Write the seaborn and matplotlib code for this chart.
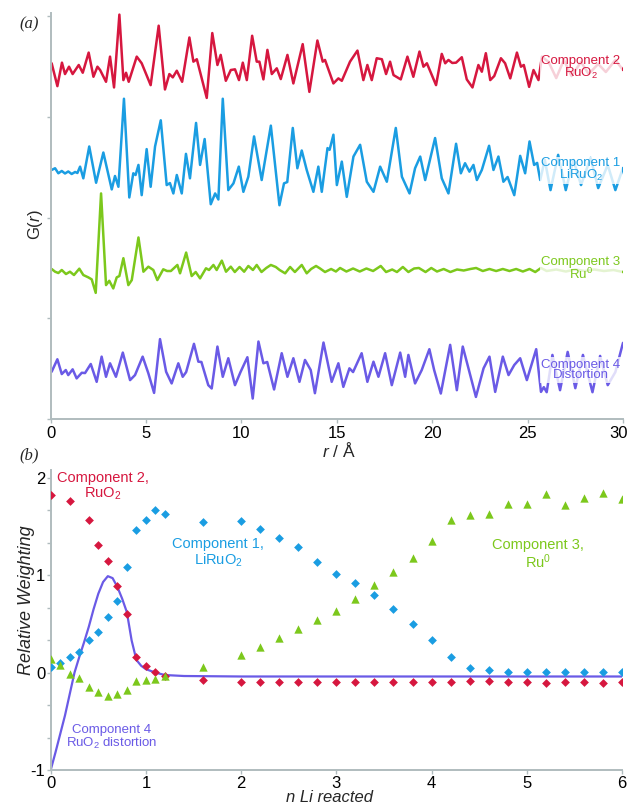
import matplotlib
matplotlib.use("Agg")
import matplotlib.pyplot as plt
import matplotlib.transforms as mtransforms
import seaborn as sns
from matplotlib import font_manager
from matplotlib.ticker import MultipleLocator

# ---- panel (a): PDF components, r in Angstrom, G(r) deviation from each trace's baseline
r_c2 = [0.05, 0.35, 0.59, 0.75, 0.96, 1.15, 1.47, 1.68, 1.99, 2.24,
        2.45, 2.59, 2.90, 3.11, 3.32, 3.60, 3.81, 3.95, 4.09, 4.51,
        4.77, 5.24, 5.66, 5.99, 6.22, 6.40, 6.61, 6.89, 7.27, 7.48,
        7.66, 8.18, 8.47, 8.74, 8.91, 9.18, 9.44, 9.66, 9.87, 10.07,
        10.28, 10.56, 10.80, 10.94, 11.15, 11.36, 11.59, 11.85, 12.06, 12.41,
        12.72, 13.21, 13.56, 13.98, 14.26, 14.38, 14.82, 15.08, 15.26, 15.69,
        16.08, 16.39, 16.60, 16.83, 17.09, 17.36, 17.58, 17.79, 17.97, 18.35,
        18.70, 19.01, 19.33, 19.54, 19.72, 20.20, 20.50, 20.68, 20.85, 21.05,
        21.25, 21.55, 21.81, 22.11, 22.42, 22.60, 22.81, 23.04, 23.25, 23.60,
        23.82, 24.09, 24.44, 24.65, 24.80, 25.08, 25.31, 25.57, 25.75, 26.1,
        26.5, 26.9, 27.3, 27.8, 28.2, 28.7, 29.1, 29.6, 30.0]
g_c2 = [0.67, -1.6, 0.73, -0.4, 0.33, -0.4, 0.5, -0.27, 1.73, -0.67,
        0.33, 0.0, -1.17, 1.33, -1.73, 5.5, -1.0, -0.27, -1.17, 1.33,
        0.67, -1.5, 4.4, -1.93, -0.4, -0.73, -0.07, -1.17, 3.23, 0.83,
        1.07, -2.77, 3.67, 0.5, 1.5, -1.07, 0.0, 0.07, -1.0, 0.73,
        -1.0, 3.4, 0.83, 0.83, -0.93, 2.0, -0.4, 0.17, -0.9, 1.5,
        -1.33, 2.57, -2.17, 2.93, 0.83, 1.0, -1.33, -0.83, -1.07, 0.83,
        1.93, -1.0, 0.5, -1.0, 1.17, 1.07, -0.4, 0.83, -0.5, -0.93,
        1.33, -0.67, 1.83, 0.33, 0.67, -1.5, 1.6, 0.67, 1.0, 0.7,
        0.73, 1.27, -0.93, -1.73, 0.5, -0.17, 1.67, -1.0, -0.6, 1.17,
        0.67, -0.83, 1.73, 0.33, 0.5, -1.67, 0.0, -1.0, 1.33, 0.8,
        -0.8, 1.0, -0.6, 0.8, -0.4, 0.6, -0.2, 1.0, 0.0]

r_c1 = [0.05, 0.23, 0.40, 0.58, 0.75, 0.92, 1.10, 1.28, 1.40, 1.54,
        1.71, 2.02, 2.38, 2.76, 3.20, 3.37, 3.55, 3.84, 4.12, 4.33,
        4.45, 4.60, 4.77, 5.03, 5.24, 5.47, 5.77, 6.08, 6.25, 6.43,
        6.61, 6.87, 7.09, 7.30, 7.62, 7.83, 8.07, 8.39, 8.62, 8.79,
        9.02, 9.31, 9.58, 9.86, 10.10, 10.36, 10.66, 11.06, 11.54, 11.99,
        12.23, 12.40, 12.69, 12.93, 13.16, 13.42, 13.77, 14.03, 14.21, 14.51,
        14.62, 14.82, 15.00, 15.26, 15.52, 15.87, 16.22, 16.57, 16.92, 17.27,
        17.62, 18.09, 18.41, 18.81, 19.10, 19.37, 19.63, 20.15, 20.50, 20.85,
        21.25, 21.50, 21.72, 21.95, 22.16, 22.34, 22.60, 22.98, 23.21, 23.47,
        23.73, 23.95, 24.30, 24.61, 24.87, 25.10, 25.34, 25.50, 25.66, 25.9,
        26.2, 26.6, 27.0, 27.4, 27.8, 28.3, 28.7, 29.2, 29.6, 30.0]
g_c1 = [0.2, 0.37, -0.13, 0.1, -0.15, 0.05, -0.2, 0.0, -0.1, 0.53,
        -0.63, 2.53, -1.07, 1.93, -1.73, -0.4, -1.47, 7.27, -2.53, -0.13,
        -0.3, 0.7, -2.3, 2.27, -1.47, 2.53, 5.13, -1.3, -1.1, -2.13,
        -0.3, -2.13, 1.8, -0.63, 4.87, 0.7, 3.27, -3.2, -2.13, -2.73,
        7.27, -1.8, -1.13, 0.53, -1.97, -0.47, 3.53, -0.8, 4.6, -3.3,
        -1.13, -1.0, 4.37, 0.37, 2.13, 0.2, -1.97, 0.53, -1.97, 2.37,
        2.2, 3.7, -1.3, 1.03, -2.47, 1.53, 2.7, -0.97, -1.97, 0.53,
        -0.97, 4.37, -0.47, -2.13, 0.37, 1.53, -0.8, 3.37, -0.63, -2.13,
        2.8, -0.13, 0.87, 0.03, 0.7, -0.8, 0.2, 2.6, 0.2, 1.53,
        -0.97, -0.5, -2.3, 1.6, -0.13, 3.03, 0.7, 0.9, -0.8, 1.2,
        -1.8, 1.7, -1.8, 1.2, -1.3, 1.4, -1.6, 0.7, -1.8, 0.4]

r_c3 = [0.05, 0.23, 0.40, 0.58, 0.80, 1.01, 1.22, 1.50, 1.71, 1.97,
        2.15, 2.36, 2.64, 2.90, 3.07, 3.28, 3.46, 3.60, 3.81, 4.07,
        4.25, 4.60, 4.86, 5.12, 5.38, 5.59, 5.90, 6.10, 6.30, 6.64,
        6.78, 7.10, 7.39, 7.60, 7.83, 8.14, 8.30, 8.53, 8.70, 8.97,
        9.19, 9.44, 9.65, 9.90, 10.14, 10.36, 10.60, 10.80, 11.05, 11.30,
        11.54, 11.80, 12.00, 12.29, 12.55, 12.80, 13.16, 13.42, 13.65, 13.91,
        14.12, 14.38, 14.70, 14.95, 15.17, 15.50, 15.85, 16.20, 16.55, 16.90,
        17.30, 17.58, 17.90, 18.15, 18.46, 18.75, 19.05, 19.30, 19.65, 19.95,
        20.25, 20.60, 20.95, 21.30, 21.65, 22.00, 22.30, 22.65, 23.00, 23.35,
        23.70, 24.05, 24.40, 24.75, 25.10, 25.40, 25.70, 26.0, 26.5, 27.0,
        27.5, 28.0, 28.5, 29.0, 29.5, 30.0]
g_c3 = [0.2, -0.07, -0.2, 0.1, -0.3, -0.07, -0.4, 0.23, -0.4, -0.63,
        -0.83, -2.17, 7.7, -1.4, -0.97, -1.73, -0.63, -0.5, 1.27, -1.4,
        -0.9, 3.33, -0.07, 0.43, 0.1, -0.9, 0.17, 0.0, 0.0, 0.6,
        -0.23, 1.83, -0.5, -0.1, -0.73, 0.27, 0.1, 0.6, 0.1, 1.03,
        -0.07, 0.43, -0.1, 0.4, -0.07, 0.5, 0.1, 0.6, -0.1, 0.3,
        0.6, 0.4, 0.1, -0.23, 0.4, -0.1, 0.6, -0.23, 0.2, 0.5,
        0.25, -0.1, 0.2, -0.05, 0.3, -0.05, 0.25, -0.05, 0.25, 0.0,
        0.5, -0.1, 0.15, -0.1, 0.4, -0.1, 0.25, 0.3, -0.1, 0.3,
        -0.05, 0.2, -0.1, 0.15, 0.05, 0.2, 0.3, 0.0, 0.2, 0.0,
        0.2, 0.0, 0.2, -0.05, 0.2, -0.1, 0.3, 0.0, 0.15, -0.05,
        0.15, 0.0, 0.15, 0.0, 0.1, -0.1]

r_c4 = [0.05, 0.35, 0.58, 0.79, 0.92, 1.15, 1.36, 1.63, 1.80, 2.10,
        2.41, 2.67, 2.90, 3.11, 3.42, 3.78, 4.16, 4.42, 4.82, 5.12,
        5.42, 5.73, 6.05, 6.34, 6.69, 6.92, 7.10, 7.51, 7.74, 7.90,
        8.26, 8.44, 8.74, 9.02, 9.31, 9.66, 9.95, 10.31, 10.59, 10.89,
        11.15, 11.35, 11.71, 12.11, 12.41, 12.72, 13.04, 13.33, 13.63, 13.85,
        14.30, 14.73, 15.08, 15.34, 15.66, 15.85, 16.30, 16.60, 16.92, 17.18,
        17.53, 17.88, 18.32, 18.58, 18.75, 19.10, 19.45, 19.85, 20.10, 20.45,
        20.94, 21.29, 21.60, 21.95, 22.29, 22.69, 23.00, 23.30, 23.70, 24.00,
        24.30, 24.61, 24.96, 25.45, 25.70, 25.85, 26.00, 26.3, 26.7, 27.1,
        27.5, 27.9, 28.4, 28.8, 29.2, 29.6, 30.0]
g_c4 = [0.03, 1.27, -0.2, 0.2, -0.3, 0.27, -0.63, -0.07, -0.1, 0.8,
        -0.97, 1.53, -0.47, 0.87, -0.47, 1.93, -0.8, -0.3, 1.53, -0.13,
        -2.07, 3.27, 0.03, -1.13, 0.87, -0.47, 0.0, 2.8, 1.03, 1.0,
        -1.3, -1.63, 2.53, -0.47, 1.37, -1.3, 0.0, 1.47, -2.63, 3.03,
        0.87, 1.0, -1.73, 1.87, -0.47, 1.37, -0.97, 1.2, 0.2, -2.1,
        2.93, -0.97, 0.87, -1.47, 0.37, 0.0, 1.87, -0.97, 1.03, -0.47,
        1.87, -1.3, 1.93, -0.47, 1.7, -1.13, 0.2, 2.27, 0.2, -2.13,
        2.7, -1.8, 2.53, 0.0, -2.47, 0.37, 1.53, -1.97, 1.53, -0.3,
        0.7, 1.37, -0.8, 2.27, -1.97, -1.5, -2.0, 1.7, -1.8, 2.0,
        -1.6, 1.7, -2.0, 1.6, -1.3, 0.0, 2.9]

# stacking offsets of the four traces (bottom to top: 4, 3, 1, 2)
offsets = {"c2": 34.64, "c1": 24.52, "c3": 14.69, "c4": 4.66}

# ---- panel (b): relative weighting vs n Li reacted
n_c2 = [0, 0.2, 0.4, 0.5, 0.6, 0.7, 0.8, 0.9, 1.0, 1.1, 1.2, 1.6,
        2.0, 2.2, 2.4, 2.6, 2.8, 3.0, 3.2, 3.4, 3.6, 3.8, 4.0, 4.2,
        4.4, 4.6, 4.8, 5.0, 5.2, 5.4, 5.6, 5.8, 6.0]
w_c2 = [1.82, 1.76, 1.57, 1.31, 1.15, 0.89, 0.60, 0.16, 0.07, 0.01, -0.03, -0.08,
        -0.10, -0.10, -0.10, -0.10, -0.10, -0.10, -0.10, -0.10, -0.10, -0.10, -0.10, -0.10,
        -0.09, -0.09, -0.10, -0.10, -0.11, -0.10, -0.10, -0.11, -0.10]

n_steps = [0, 0.1, 0.2, 0.3, 0.4, 0.5, 0.6, 0.7, 0.8, 0.9, 1.0, 1.1, 1.2, 1.6,
           2.0, 2.2, 2.4, 2.6, 2.8, 3.0, 3.2, 3.4, 3.6, 3.8, 4.0, 4.2,
           4.4, 4.6, 4.8, 5.0, 5.2, 5.4, 5.6, 5.8, 6.0]
w_c1 = [0.06, 0.10, 0.16, 0.21, 0.33, 0.42, 0.57, 0.73, 1.08, 1.46, 1.57, 1.67, 1.63, 1.55,
        1.56, 1.47, 1.38, 1.29, 1.14, 1.01, 0.92, 0.80, 0.65, 0.50, 0.33, 0.16,
        0.05, 0.03, 0.01, 0.01, 0.01, 0.01, 0.01, 0.01, 0.01]
w_c3 = [0.14, 0.08, -0.01, -0.06, -0.15, -0.20, -0.24, -0.22, -0.18, -0.09, -0.08, -0.07, -0.04, 0.06,
        0.18, 0.26, 0.36, 0.45, 0.54, 0.63, 0.76, 0.90, 1.03, 1.18, 1.35, 1.57,
        1.62, 1.63, 1.73, 1.73, 1.83, 1.72, 1.79, 1.84, 1.78]

n_c4 = [0, 0.05, 0.1, 0.15, 0.2, 0.25, 0.3, 0.35, 0.4, 0.45, 0.5, 0.55, 0.6, 0.65,
        0.7, 0.75, 0.8, 0.85, 0.9, 0.95, 1.0, 1.1, 1.2, 1.4, 2.0, 3.0, 4.0, 5.0, 6.0]
w_c4 = [-1.0, -0.82, -0.63, -0.44, -0.22, 0.0, 0.16, 0.31, 0.47, 0.65, 0.81, 0.93, 0.99, 0.97,
        0.88, 0.76, 0.62, 0.33, 0.13, 0.07, 0.035, 0.0, -0.025, -0.035, -0.04, -0.04, -0.04, -0.04, -0.04]

RED = "#d6173f"
BLUE = "#1a9de2"
GREEN = "#7cc81c"
PURPLE = "#6a5ae6"
GREY = "#b0bcbe"

sns.set_style("ticks")
plt.rcParams['font.family'] = ['Liberation Sans', 'DejaVu Sans']
plt.rcParams['mathtext.fontset'] = 'custom'
plt.rcParams['mathtext.rm'] = 'Liberation Sans'
plt.rcParams['mathtext.it'] = 'Liberation Sans:italic'
plt.rcParams['axes.unicode_minus'] = False

installed = {f.name for f in font_manager.fontManager.ttflist}
if 'Liberation Sans Narrow' in installed:
    narrow, nscale = 'Liberation Sans Narrow', 1.0
else:
    narrow, nscale = 'Liberation Sans', 0.87

W, H = 629, 806
fig = plt.figure(figsize=(W / 100, H / 100), dpi=100)


def style_axes(ax):
    sns.despine(ax=ax)
    for s in ("left", "bottom"):
        ax.spines[s].set_color(GREY)
        ax.spines[s].set_linewidth(1.4)
    ax.tick_params(which="both", direction="out", color=GREY, width=1.0,
                   labelsize=12, labelcolor="black")


# ---------------- (a)
ax_a = fig.add_axes([50.7 / W, 1 - 419 / H, (623 - 50.7) / W, (419 - 12.7) / H])
traces = [(r_c2, g_c2, "c2", RED), (r_c1, g_c1, "c1", BLUE),
          (r_c3, g_c3, "c3", GREEN), (r_c4, g_c4, "c4", PURPLE)]
for r, g, key, col in traces:
    sns.lineplot(x=r, y=[v + offsets[key] for v in g], ax=ax_a, color=col,
                 lw=1.8, estimator=None, sort=False,
                 solid_joinstyle="round", solid_capstyle="round")

ax_a.set_xlim(0, 30)
ax_a.set_ylim(0, 40.33)
ax_a.set_xticks([0, 5, 10, 15, 20, 25, 30])
ax_a.set_yticks([0, 10, 20, 30, 40])
ax_a.set_yticklabels([])
ax_a.set_xlabel("")
ax_a.set_ylabel("")
style_axes(ax_a)
ax_a.tick_params(length=3, pad=2)
# keep the last tick label inside the canvas, as in the source figure
last = ax_a.get_xticklabels()[-1]
last.set_transform(last.get_transform() +
                   mtransforms.ScaledTranslation(-4 / 100, 0, fig.dpi_scale_trans))

box = dict(boxstyle="square,pad=0.12", fc="white", ec="none", alpha=0.8)
labels_a = [("Component 2\nRuO$_2$", offsets["c2"] + 0.2, RED),
            ("Component 1\nLiRuO$_2$", offsets["c1"] + 0.2, BLUE),
            ("Component 3\nRu$^0$", offsets["c3"] + 0.2, GREEN),
            ("Component 4\nDistortion", offsets["c4"] + 0.2, PURPLE)]
for txt, yy, col in labels_a:
    ax_a.text(27.8, yy, txt, color=col, ha="center", va="center",
              fontsize=11 * nscale, family=narrow, linespacing=0.85,
              bbox=box, zorder=5)

ax_a.text(-0.026, 0.4775, "G($\\it{r}$)", transform=ax_a.transAxes, rotation=90,
          ha="center", va="center", fontsize=12)
ax_a.text(0.504, -0.0763, "$\\it{r}$ / Å", transform=ax_a.transAxes,
          ha="center", va="center", fontsize=12.5)
fig.text(29 / W, 1 - 24.5 / H, "(a)", family="Liberation Serif", style="italic",
         fontsize=12, ha="center", va="center")

# ---------------- (b)
ax_b = fig.add_axes([50.7 / W, 1 - 770 / H, (622 - 50.7) / W, 300 / H])
sns.lineplot(x=n_c4, y=w_c4, ax=ax_b, color=PURPLE, lw=1.6, estimator=None,
             sort=False, zorder=2)
sns.scatterplot(x=n_c2, y=w_c2, ax=ax_b, marker="D", s=20, color=RED,
                linewidth=0, zorder=3)
sns.scatterplot(x=n_steps, y=w_c1, ax=ax_b, marker="D", s=20, color=BLUE,
                linewidth=0, zorder=3)
sns.scatterplot(x=n_steps, y=w_c3, ax=ax_b, marker="^", s=36, color=GREEN,
                linewidth=0, zorder=3)

ax_b.set_xlim(0, 6)
ax_b.set_ylim(-1, 2.08)
ax_b.set_xticks([0, 1, 2, 3, 4, 5, 6])
ax_b.set_yticks([-1, 0, 1, 2])
ax_b.yaxis.set_minor_locator(MultipleLocator(1 / 3))
ax_b.set_xlabel("")
ax_b.set_ylabel("")
style_axes(ax_b)
ax_b.tick_params(which="both", length=3, pad=2)
ax_b.tick_params(axis="y", pad=1)
ax_b.tick_params(axis="x", pad=1)

ax_b.text(0.55, 1.91, "Component 2,\nRuO$_2$", color=RED, ha="center", va="center",
          fontsize=10.5, linespacing=1.05)
ax_b.text(1.76, 1.226, "Component 1,\nLiRuO$_2$", color=BLUE, ha="center", va="center",
          fontsize=10.5, linespacing=1.05)
ax_b.text(5.12, 1.21, "Component 3,\nRu$^0$", color=GREEN, ha="center", va="center",
          fontsize=10.5, linespacing=1.05)
ax_b.text(0.64, -0.664, "Component 4\nRuO$_2$ distortion", color=PURPLE, ha="center",
          va="center", fontsize=11 * nscale, family=narrow, linespacing=1.0)

ax_b.text(-0.0415, 0.567, "Relative Weighting", transform=ax_b.transAxes, rotation=90,
          ha="center", va="center", fontsize=13, style="italic")
fig.text(0.5 * (50.7 + 622) / W - 7 / W, 1 / H, "n Li reacted",
         ha="center", va="bottom", fontsize=12, style="italic")
fig.text(29 / W, 1 - 455 / H, "(b)", family="Liberation Serif", style="italic",
         fontsize=12, ha="center", va="center")

fig.savefig("out.png", dpi=100)
